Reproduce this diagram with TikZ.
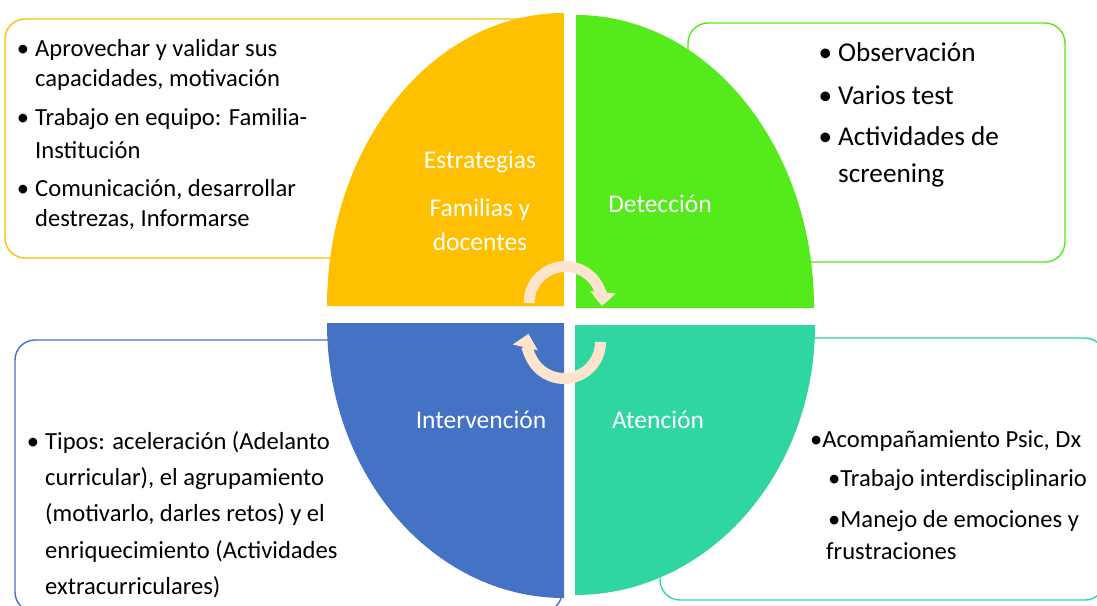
\documentclass[tikz,border=0pt]{standalone}
\usepackage{fontspec}
\setmainfont{Carlito}
\usetikzlibrary{arrows.meta}
\definecolor{cyel}{RGB}{255,192,0}
\definecolor{cgrn}{RGB}{84,234,28}
\definecolor{cteal}{RGB}{48,214,162}
\definecolor{cblue}{RGB}{68,114,196}
\definecolor{ccream}{RGB}{252,228,206}
\newcommand\blt{\llap{•\hspace{6pt}}}
\begin{document}
\begin{tikzpicture}[x=1pt,y=-1pt,
  box/.style={line width=1.4pt, rounded corners=20pt, fill=white},
  txtA/.style={anchor=base west, inner sep=0pt, font=\fontsize{24.6}{28}\selectfont},
  txtB/.style={anchor=base west, inner sep=0pt, font=\fontsize{27.2}{30}\selectfont},
  txtC/.style={anchor=base west, inner sep=0pt, font=\fontsize{24.6}{28}\selectfont},
  lab/.style={inner sep=0pt, text=white, font=\fontsize{25.5}{28}\selectfont},
  arr/.style={line width=11pt, draw=ccream, -{Triangle[width=25pt,length=14pt]}}]
\useasboundingbox (0,0) rectangle (1097,605);

% text boxes
\draw[box, draw=cyel] (5,19) rectangle (545,258);
\draw[box, draw=cgrn] (688,23) rectangle (1065,262);
\draw[box, draw=cblue] (15,340) rectangle (562,612);
\draw[box, draw=cteal] (660,338) rectangle (1105,600);

% quarter shapes
\fill[cyel] (564,306) -- (327,306) arc[start angle=180, end angle=270, x radius=237, y radius=293] -- cycle;
\fill[cgrn] (576,308) -- (576,15) arc[start angle=270, end angle=360, x radius=238, y radius=293] -- cycle;
\fill[cteal] (575,325) -- (815,325) arc[start angle=0, end angle=90, x radius=240, y radius=270] -- cycle;
\fill[cblue] (564,323) -- (564,598) arc[start angle=90, end angle=180, x radius=237, y radius=275] -- cycle;

% cycle arrows
\draw[arr] (529,303) arc[start angle=180, end angle=365, radius=36.5];
\draw[arr] (600.5,342) arc[start angle=0, end angle=193, radius=36.5];

% labels
\node[lab] (l1) at (480,162) {Estrategias};
\node[lab] (l2) at (480,210) {Familias y};
\node[lab] (l3) at (480,242) {docentes};
\node[lab] (l4) at (660,204) {Detección};
\node[lab] (l5) at (481,420) {Intervención};
\node[lab] (l6) at (658,420) {Atención};

% yellow box text
\node[txtA] (y1) at (35,56) {\blt Aprovechar y validar sus};
\node[txtA] (y2) at (35,86) {capacidades, motivación};
\node[txtA] (y3) at (35,125) {\blt Trabajo en equipo: Familia-};
\node[txtA] (y4) at (35,158) {Institución};
\node[txtA] (y5) at (35,196) {\blt Comunicación, desarrollar};
\node[txtA] (y6) at (35,226) {destrezas, Informarse};

% green box text
\node[txtB] (g1) at (838,61) {\blt Observación};
\node[txtB] (g2) at (838,104) {\blt Varios test};
\node[txtB] (g3) at (838,145) {\blt Actividades de};
\node[txtB] (g4) at (838,182) {screening};

% blue box text
\node[txtC] (b1) at (45,449) {\blt Tipos: aceleración (Adelanto};
\node[txtC] (b2) at (45,485) {curricular), el agrupamiento};
\node[txtC] (b3) at (45,521) {(motivarlo, darles retos) y el};
\node[txtC] (b4) at (45,558) {enriquecimiento (Actividades};
\node[txtC] (b5) at (45,594) {extracurriculares)};

% teal box text
\node[txtC] (t1) at (810,447) {•Acompañamiento Psic, Dx};
\node[txtC] (t2) at (828,486) {•Trabajo interdisciplinario};
\node[txtC] (t3) at (828,527) {•Manejo de emociones y};
\node[txtC] (t4) at (826,559) {frustraciones};
\end{tikzpicture}
\end{document}
